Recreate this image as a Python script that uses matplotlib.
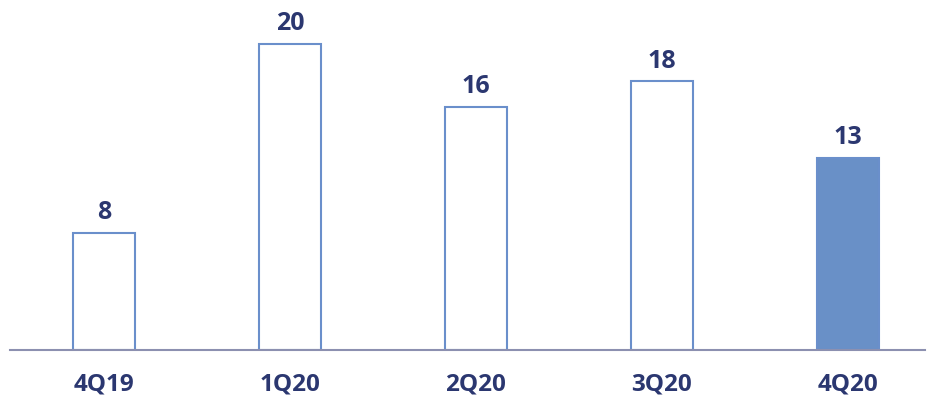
import matplotlib.pyplot as plt

quarters = ['4Q19', '1Q20', '2Q20', '3Q20', '4Q20']
values = [7.8, 20.4, 16.2, 17.9, 12.8]
labels = ['8', '20', '16', '18', '13']

text_color = '#2B3770'
edge_color = '#6A8FCB'
fill_color = '#6990C7'

fig = plt.figure(figsize=(9.33, 3.99), dpi=100)
ax = fig.add_axes([10 / 933, 49 / 399, 915 / 933, 350 / 399])

x = range(len(quarters))
faces = ['white'] * (len(quarters) - 1) + [fill_color]
ax.bar(x, values, width=0.33, color=faces, edgecolor=edge_color, linewidth=1.5, zorder=2)

for i, v in enumerate(values):
    ax.text(i, v + 0.5, labels[i], ha='center', va='bottom', fontsize=18,
            fontweight='bold', color=text_color, family='Open Sans')

ax.set_xlim(-0.505, 4.414)
ax.set_ylim(0, 23.33)
ax.set_xticks(list(x))
ax.set_xticklabels(quarters, fontsize=17.5, fontweight='bold', color=text_color, family='Open Sans')
ax.tick_params(axis='x', length=0, pad=16)
ax.set_yticks([])
for s in ['top', 'right', 'left']:
    ax.spines[s].set_visible(False)
ax.spines['bottom'].set_color('#8C90B0')
ax.spines['bottom'].set_linewidth(1.5)

fig.savefig('out.png', dpi=100)
